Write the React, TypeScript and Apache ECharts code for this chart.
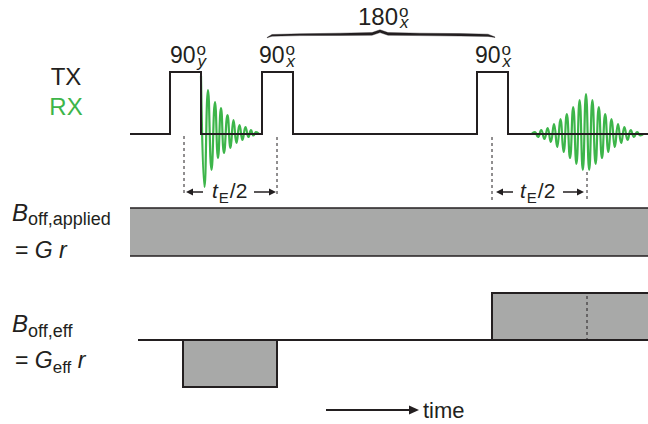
import React, { useEffect, useRef } from "react";
import * as echarts from "echarts";

const INK = "#231f20";
const GREEN = "#3db54a";
const GRAY = "#a8a9a8";
const FONT = "'Liberation Sans', Arial, Helvetica, sans-serif";

// chart extent (time along x, level along y)
const X_MAX = 648;
const Y_MAX = 424;

// ---- TX trace ----
const txStart = 130;
const txEnd = 648;
const txBaseline = 134;
const txPulseTop = 72;
const pulseStarts = [170, 262, 477];
const pulseEnds = [201, 293, 508];
const pulseAngles = ["90", "90", "90"];
const pulsePhases = ["y", "x", "x"];
const pulseLabelLeft = [170, 259, 475];
const pulseLabelBaseline = 63;

// ---- 180 brace ----
const braceX = [267, 272, 300, 340, 372, 380, 388, 420, 460, 488, 495];
const braceUpper = [37.5, 34.5, 33.8, 33.2, 32.6, 29.8, 32.6, 33.2, 33.6, 34.2, 37];
const braceLower = [37.8, 36.2, 35.6, 35.4, 35.2, 32.6, 35.2, 35.6, 36, 36.4, 37.4];
const braceLabel = "180";
const braceLabelPhase = "x";
const braceLabelLeft = 358;
const braceLabelBaseline = 25;

// ---- RX: FID after first pulse ----
const fidTime = [201, 204.5, 208, 211.5, 215, 218, 221, 224, 227.5, 230.5, 233.5, 236.5, 239.5, 242.5, 245.5, 248.5, 251, 253.5, 256, 259];
const fidLevel = [76, 187, 90, 170, 102, 158, 108, 153, 115, 148, 120, 143, 125, 140, 127, 137, 130, 135.5, 132, 134];

// ---- RX: echo ----
const echoTime = [531.6, 534.8, 538.0, 541.2, 544.4, 547.6, 550.8, 554.0, 557.2, 560.4, 563.6, 566.8, 570.0, 573.2, 576.4, 579.6, 582.8, 586.0, 589.2, 592.4, 595.6, 598.8, 602.0, 605.2, 608.4, 611.6, 614.8, 618.0, 621.2, 624.4, 627.6, 630.8, 634.0, 637.2, 640.4, 643.5];
const echoLevel = [134, 132, 137, 130, 139, 128, 142, 124, 147, 119, 152, 114, 158, 107, 164, 100, 170, 94, 170, 100, 164, 107, 158, 114, 152, 119, 147, 124, 143, 127, 140, 130, 137, 132, 135.5, 134];

// ---- dashed time markers ----
const markerTime = [184, 277, 492, 587, 587];
const markerFrom = [136, 137, 137, 172, 296];
const markerTo = [196, 196, 201, 201, 340];

// ---- arrows (tE/2 spans and time arrow) ----
const arrowTail = [203, 254, 513, 563, 326];
const arrowHead = [186, 276, 496, 584, 419];
const arrowLevel = [192, 192, 192, 192, 410];
const teLabelLeft = [212, 520];
const teLabelBaseline = 198;

// ---- applied offset field ----
const appliedStart = 130;
const appliedEnd = 648;
const appliedTop = 208;
const appliedBottom = 256;

// ---- effective offset field ----
const effStart = 138;
const effEnd = 648;
const effBaseline = 340;
const effLobeStart = [183, 492];
const effLobeEnd = [277, 652];
const effLobeLevel = [387, 293];

type Piece = { t: string; s: number; it?: boolean; dy?: number; dx?: number; c?: string; stay?: boolean };
type Label = { x: number; y: number; center?: boolean; pieces: Piece[] };

const labels: Label[] = [
  { x: 66, y: 85, center: true, pieces: [{ t: "TX", s: 24 }] },
  { x: 66, y: 115, center: true, pieces: [{ t: "RX", s: 24, c: GREEN }] },
  ...pulseAngles.map((a, i) => ({
    x: pulseLabelLeft[i],
    y: pulseLabelBaseline,
    pieces: [
      { t: a, s: 23 },
      { t: "o", s: 17, dy: -8, dx: 1, stay: true },
      { t: pulsePhases[i], s: 17, it: true, dy: 4, dx: 2 },
    ],
  })),
  {
    x: braceLabelLeft,
    y: braceLabelBaseline,
    pieces: [
      { t: braceLabel, s: 24 },
      { t: "o", s: 17, dy: -8, dx: 1, stay: true },
      { t: braceLabelPhase, s: 17, it: true, dy: 3, dx: 2 },
    ],
  },
  ...teLabelLeft.map((x) => ({
    x,
    y: teLabelBaseline,
    pieces: [
      { t: "t", s: 21, it: true },
      { t: "E", s: 15, dy: 5, dx: 1 },
      { t: "/2", s: 21, dx: 1 },
    ],
  })),
  { x: 12, y: 221, pieces: [{ t: "B", s: 24, it: true }, { t: "off,applied", s: 18, dy: 4 }] },
  { x: 15, y: 258, pieces: [{ t: "= ", s: 23 }, { t: "G", s: 23, it: true }, { t: " ", s: 23 }, { t: "r", s: 23, it: true }] },
  { x: 12, y: 332, pieces: [{ t: "B", s: 24, it: true }, { t: "off,eff", s: 18, dy: 5 }] },
  {
    x: 15,
    y: 368,
    pieces: [
      { t: "= ", s: 23 },
      { t: "G", s: 23, it: true },
      { t: "eff", s: 17, dy: 5 },
      { t: " ", s: 23 },
      { t: "r", s: 23, it: true },
    ],
  },
  { x: 423, y: 418, pieces: [{ t: "time", s: 22 }] },
];

let measureCtx: CanvasRenderingContext2D | null = null;
function measure(text: string, font: string): number {
  if (!measureCtx) measureCtx = document.createElement("canvas").getContext("2d");
  if (!measureCtx) return text.length * 10;
  measureCtx.font = font;
  return measureCtx.measureText(text).width;
}

export default function App() {
  const ref = useRef<HTMLDivElement>(null);

  useEffect(() => {
    if (!ref.current) return;
    const chart = echarts.init(ref.current, undefined, { renderer: "svg" });

    const txPoints: number[][] = [[txStart, txBaseline]];
    pulseStarts.forEach((s, i) => {
      txPoints.push([s, txBaseline], [s, txPulseTop], [pulseEnds[i], txPulseTop], [pulseEnds[i], txBaseline]);
    });
    txPoints.push([txEnd, txBaseline]);

    const fidPoints = fidTime.map((t, i) => [t, fidLevel[i]]);
    const echoPoints = echoTime.map((t, i) => [t, echoLevel[i]]);

    const option: any = {
      animation: false,
      backgroundColor: "#ffffff",
      grid: { left: 0, right: 0, top: 0, bottom: 0, containLabel: false },
      xAxis: { type: "value", min: 0, max: X_MAX, show: false },
      yAxis: { type: "value", min: 0, max: Y_MAX, inverse: true, show: false },
      series: [
        // applied field band
        {
          type: "custom",
          silent: true,
          z: 1,
          data: [[appliedStart, appliedTop, appliedEnd, appliedBottom]],
          renderItem: (params: any, api: any) => {
            const p0 = api.coord([api.value(0), api.value(1)]);
            const p1 = api.coord([api.value(2), api.value(3)]);
            return {
              type: "group",
              children: [
                { type: "rect", shape: { x: p0[0], y: p0[1], width: p1[0] - p0[0], height: p1[1] - p0[1] }, style: { fill: GRAY } },
                { type: "line", shape: { x1: p0[0], y1: p0[1], x2: p1[0], y2: p0[1] }, style: { stroke: INK, lineWidth: 1.5 } },
                { type: "line", shape: { x1: p0[0], y1: p1[1], x2: p1[0], y2: p1[1] }, style: { stroke: INK, lineWidth: 1.5 } },
              ],
            };
          },
        },
        // effective field lobes
        {
          type: "custom",
          silent: true,
          z: 2,
          data: effLobeStart.map((s, i) => [s, effBaseline, effLobeEnd[i], effLobeLevel[i]]),
          renderItem: (params: any, api: any) => {
            const p0 = api.coord([api.value(0), api.value(1)]);
            const p1 = api.coord([api.value(2), api.value(3)]);
            const x = Math.min(p0[0], p1[0]);
            const y = Math.min(p0[1], p1[1]);
            return {
              type: "rect",
              shape: { x, y, width: Math.abs(p1[0] - p0[0]), height: Math.abs(p1[1] - p0[1]) },
              style: { fill: GRAY, stroke: INK, lineWidth: 2 },
            };
          },
        },
        // effective baseline
        {
          type: "line",
          silent: true,
          z: 3,
          symbol: "none",
          data: [[effStart, effBaseline], [effEnd, effBaseline]],
          lineStyle: { color: INK, width: 2 },
        },
        // dashed markers
        {
          type: "custom",
          silent: true,
          z: 4,
          data: markerTime.map((t, i) => [t, markerFrom[i], markerTo[i]]),
          renderItem: (params: any, api: any) => {
            const p0 = api.coord([api.value(0), api.value(1)]);
            const p1 = api.coord([api.value(0), api.value(2)]);
            return {
              type: "line",
              shape: { x1: p0[0], y1: p0[1], x2: p1[0], y2: p1[1] },
              style: { stroke: INK, lineWidth: 1, lineDash: [3, 3] },
            };
          },
        },
        // arrows
        {
          type: "custom",
          silent: true,
          z: 5,
          data: arrowTail.map((t, i) => [t, arrowLevel[i], arrowHead[i]]),
          renderItem: (params: any, api: any) => {
            const big = params.dataIndex === arrowTail.length - 1;
            const tail = api.coord([api.value(0), api.value(1)]);
            const head = api.coord([api.value(2), api.value(1)]);
            const dir = head[0] >= tail[0] ? 1 : -1;
            const L = big ? 10 : 7;
            const W = big ? 4.5 : 3.5;
            return {
              type: "group",
              children: [
                {
                  type: "line",
                  shape: { x1: tail[0], y1: tail[1], x2: head[0] - dir * L * 0.8, y2: head[1] },
                  style: { stroke: INK, lineWidth: big ? 2 : 1.5 },
                },
                {
                  type: "polygon",
                  shape: { points: [[head[0], head[1]], [head[0] - dir * L, head[1] - W], [head[0] - dir * L, head[1] + W]] },
                  style: { fill: INK },
                },
              ],
            };
          },
        },
        // brace
        {
          type: "custom",
          silent: true,
          z: 5,
          data: [[0]],
          renderItem: (params: any, api: any) => {
            const up = braceX.map((x, i) => api.coord([x, braceUpper[i]]));
            const lo = braceX.map((x, i) => api.coord([x, braceLower[i]])).reverse();
            return { type: "polygon", shape: { points: up.concat(lo) }, style: { fill: INK, stroke: INK, lineWidth: 0.4 } };
          },
        },
        // FID
        {
          type: "line",
          silent: true,
          z: 6,
          symbol: "none",
          smooth: 0.5,
          data: fidPoints,
          lineStyle: { color: GREEN, width: 2.2 },
        },
        // echo
        {
          type: "line",
          silent: true,
          z: 6,
          symbol: "none",
          smooth: 0.5,
          data: echoPoints,
          lineStyle: { color: GREEN, width: 2.2 },
        },
        // TX
        {
          type: "line",
          silent: true,
          z: 7,
          symbol: "none",
          data: txPoints,
          lineStyle: { color: INK, width: 2, join: "miter" },
        },
        // labels
        {
          type: "custom",
          silent: true,
          z: 8,
          data: labels.map((l) => [l.x, l.y]),
          renderItem: (params: any, api: any) => {
            const lab = labels[params.dataIndex];
            const p = api.coord([api.value(0), api.value(1)]);
            const fonts = lab.pieces.map((pc) => `${pc.it ? "italic " : ""}${pc.s}px ${FONT}`);
            const widths = lab.pieces.map((pc, i) => measure(pc.t, fonts[i]));
            let cx = p[0];
            if (lab.center) {
              const total = widths.reduce((a, w, i) => a + (lab.pieces[i].stay ? 0 : w + (lab.pieces[i].dx || 0)), 0);
              cx -= total / 2;
            }
            const children: any[] = [];
            lab.pieces.forEach((pc, i) => {
              const x = cx + (pc.dx || 0);
              children.push({
                type: "text",
                x,
                y: p[1] + (pc.dy || 0) - 0.3465 * pc.s,
                style: {
                  text: pc.t,
                  fontSize: pc.s,
                  fontFamily: FONT,
                  fontStyle: pc.it ? "italic" : "normal",
                  fill: pc.c || INK,
                  align: "left",
                  verticalAlign: "middle",
                  textAlign: "left",
                  textVerticalAlign: "middle",
                },
              });
              if (!pc.stay) cx = x + widths[i];
            });
            return { type: "group", children };
          },
        },
      ],
    };

    chart.setOption(option);
    return () => chart.dispose();
  }, []);

  return (
    <div
      ref={ref}
      style={{ position: "fixed", left: 0, top: 0, width: 648, height: 424, background: "#fff" }}
    />
  );
}
